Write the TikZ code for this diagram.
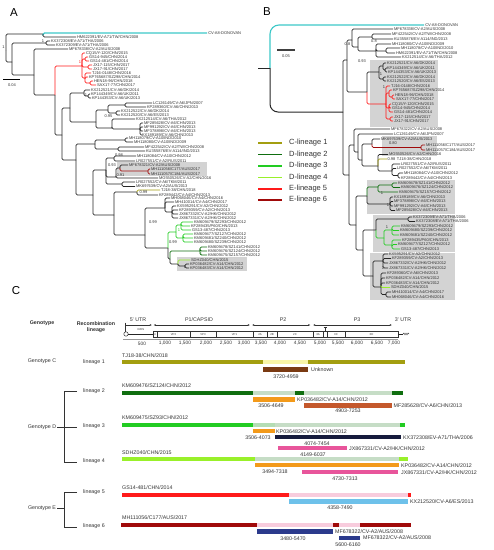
\documentclass[tikz,border=0pt]{standalone}
\usepackage{fontspec}
\setmainfont{Liberation Sans}
\usetikzlibrary{arrows.meta}
\definecolor{txt}{HTML}{333333}
\definecolor{cyanc}{HTML}{3CC8C8}
\definecolor{redc}{HTML}{FF1A1A}
\definecolor{dredc}{HTML}{A00A0A}
\definecolor{olivec}{HTML}{A39E10}
\definecolor{dgreenc}{HTML}{0F6E0F}
\definecolor{greenc}{HTML}{22CC22}
\definecolor{ygreenc}{HTML}{99F02A}
\definecolor{boxgrey}{HTML}{D3D3D3}
\definecolor{lyellow}{HTML}{F8F4A6}
\definecolor{lgreen}{HTML}{C6DDC6}
\definecolor{lgreenb}{HTML}{B4DDB4}
\definecolor{lpink}{HTML}{F8CCDD}
\definecolor{brownc}{HTML}{7A3A12}
\definecolor{orangec}{HTML}{F39A1A}
\definecolor{rustc}{HTML}{C4582C}
\definecolor{navyc}{HTML}{161B3D}
\definecolor{pinkc}{HTML}{E8559B}
\definecolor{lbluec}{HTML}{6EC1EA}
\definecolor{navybc}{HTML}{2B3A8C}
\newcommand\treefont{\fontsize{4}{4.2}\selectfont}
\newcommand\cfont{\fontsize{5.3}{6}\selectfont}
\newcommand\bfontc{\fontsize{5.3}{6.4}\selectfont\bfseries}
\newcommand\legfont{\fontsize{7.5}{8}\selectfont}
\newcommand\mapfont{\fontsize{2.8}{3}\selectfont}
\newcommand\Tbr[5][]{\draw[tb,#1] (#2,#3) |- (#4,#5);}
\newcommand\Tlf[6][]{\draw[tb,#1] (#2,#3) |- (#4,#5) node[lab]{#6};}
\tikzset{
 tb/.style={line width=0.75pt, rounded corners=1.4pt, black!85},
 lab/.style={anchor=west, inner sep=0.7pt, font=\treefont, text=txt},
 bsl/.style={font=\treefont, text=txt, inner sep=0pt},
 gbox/.style={fill=boxgrey, draw=none},
 lgl/.style={line width=1.5pt},
 legt/.style={anchor=west, font=\legfont, text=txt, inner sep=0pt},
 ct/.style={font=\cfont, text=txt, inner sep=0pt},
 cw/.style={font=\cfont, text=txt, inner sep=0pt, anchor=west},
 gl/.style={line width=0.5pt, black!80},
 plab/.style={font=\fontsize{11.5}{12}\selectfont, text=black, inner sep=0pt},
}
\begin{document}
\begin{tikzpicture}[x=1pt,y=-1pt]
\useasboundingbox (0,0) rectangle (494,550);
\fill[white] (0,0) rectangle (494,550);
% ================= PANEL A =================
\node[plab] (pA) at (14,13) {A};
\fill[gbox] (117,162) rectangle (207,176);
\fill[gbox] (177,257) rectangle (247,270.5);
\draw[tb] (6,50) |- (43,34);
\draw[tb,cyanc,line width=1.2pt] (43,34) |- (207,33) node[lab]{CV-A8-DONOVAN};
\Tlf{43}{34}{76}{37}{HM622391/EV-A71/TW/CHN/2008}
\Tbr{6}{50}{12}{62}
\Tbr{12}{62}{46}{43}
\Tlf{46}{43}{50}{41}{KX372308/EV-A71/THA/2006}
\Tlf{46}{43}{55}{45}{KX372309/EV-A71/THA/2006}
\Tbr{12}{62}{34}{75}
\Tlf{34}{75}{68}{49}{MF678338/CV-A2/AUS/2008}
\Tbr{34}{75}{55}{95}
% red clade
\Tbr[redc]{55}{95}{82}{66}
\Tlf[redc]{82}{66}{85}{53}{CQ15/Y-120/CHN/2015}
\Tbr[redc]{82}{66}{85}{59}
\Tlf[redc]{85}{59}{88}{57}{GS14-945/CHN/2014}
\Tlf[redc]{85}{59}{89}{61}{GS14-481/CHN/2014}
\Tbr[redc]{82}{66}{88}{67}
\Tlf[redc]{88}{67}{92}{65}{JX17-115/CHN/2017}
\Tlf[redc]{88}{67}{92}{69}{JX17-91/CHN/2017}
\Tbr[redc]{82}{66}{85}{78}
\Tlf[redc]{85}{78}{91}{73}{TJ16-0148/CHN/2016}
\Tlf[redc]{85}{78}{88}{77}{KP765687/SZ298/CHN/2014}
\Tbr[redc]{85}{78}{90}{83}
\Tlf[redc]{90}{83}{93}{81}{HEN18-96/CHN/2018}
\Tlf[redc]{90}{83}{96}{85}{SAX17-77/CHN/2017}
% rest
\Tbr{55}{95}{62}{135}
\Tbr{62}{135}{70}{108}
\Tbr{70}{108}{84}{93}
\Tlf{84}{93}{90}{90}{KX212521/CV-A6/DK/2014}
\Tbr{84}{93}{88}{96}
\Tlf{88}{96}{90}{94}{KP144349/CV-A6/UK/2011}
\Tlf{88}{96}{91}{98}{KP144353/CV-A6/UK/2013}
\Tbr{70}{108}{96}{122}
\Tbr{96}{122}{108}{110}
\Tbr{108}{110}{125}{105}
\Tlf{125}{105}{152}{103}{LC126149/CV-A6/JPN/2007}
\Tlf{125}{105}{146}{107}{KP289360/CV-A6/CHN/2013}
\Tbr{108}{110}{116}{113}
\Tlf{116}{113}{120}{111}{KX212522/CV-A6/DK/2014}
\Tlf{116}{113}{120}{115}{KX212520/CV-A6/ES/2013}
\Tbr{96}{122}{112}{128}
\Tlf{112}{128}{135}{119}{KX212514/CV-A6/THA/2012}
\Tbr{112}{128}{140}{129}
\Tlf{140}{129}{143}{123}{MF285628/CV-A6/CHN/2013}
\Tlf{140}{129}{143}{127}{MF991292/CV-A6/CHN/2013}
\Tlf{140}{129}{143}{131}{MF378898/CV-A6/CHN/2013}
\Tlf{140}{129}{141}{135}{KX189189/CV-A6/CHN/2013}
\Tbr{62}{135}{76}{160}
\Tbr{76}{160}{95}{144}
\Tbr{95}{144}{125}{140}
\Tlf{125}{140}{128}{138}{MH118079/CV-A10/IND/2010}
\Tlf{125}{140}{133}{142}{MH118080/CV-A10/IND/2009}
\Tbr{95}{144}{118}{149}
\Tlf{118}{149}{144}{147}{MF422542/CV-A2/TW/CHN/2008}
\Tlf{118}{149}{145}{151}{KU355876/EV-A114/IND/2013}
\Tbr{76}{160}{93}{195}
\Tbr{93}{195}{106}{170}
\Tbr{106}{170}{114}{158}
\Tlf{114}{158}{136}{156}{MH118084/CV-A10/CHN/2012}
\Tlf{114}{158}{135}{161}{LR027551/CV-A2/RUS/2011}
\Tbr{106}{170}{116}{177}
\Tbr{116}{177}{120}{168}
\Tlf{120}{168}{128}{165}{MF678321/CV-A2/AUS/2008}
\Tbr[dredc]{120}{168}{148}{171}
\Tlf[dredc]{148}{171}{150}{169}{MH111056/C177/AUS/2017}
\Tlf[dredc]{148}{171}{150}{174}{MH111057/C184/AUS/2017}
\Tlf{116}{177}{158}{178}{MG550526/CV-A2/CHN/2016}
\Tbr{106}{170}{122}{184}
\Tlf{122}{184}{135}{182}{LR027552/CV-A6/TKM/2011}
\Tlf{122}{184}{135}{186.5}{MK697639/CV-A2/AUS/2013}
\Tbr{93}{195}{114}{215}
\Tbr{114}{215}{137}{192}
\Tlf[olivec]{137}{192}{160}{190}{TJ18-38/CHN/2018}
\Tlf{137}{192}{158}{195}{KF289442/CV-A4/CHN/2013}
\Tbr{114}{215}{145}{235}
\Tbr{145}{235}{165}{208}
\Tlf{165}{208}{170}{198}{MH068046/CV-A4/CHN/2016}
\Tlf{165}{208}{174}{202}{MH410014/CV-A4/CHN/2017}
\Tbr{165}{208}{172}{212}
\Tlf{172}{212}{176}{206}{KX595291/CV-A2/CHN/2012}
\Tlf{172}{212}{178}{210}{KF289359/CV-A2/CHN/2013}
\Tlf{172}{212}{178}{214}{JX867332/CV-A2/HK/CHN/2012}
\Tlf{172}{212}{178}{218}{JX867331/CV-A2/HK/CHN/2012}
\Tbr{145}{235}{168}{248}
\Tbr[greenc]{168}{248}{176}{232}
\Tbr[greenc]{176}{232}{181}{225}
\Tlf[greenc]{181}{225}{193}{222}{KM609479/SZ293/CHN/2012}
\Tlf[greenc]{181}{225}{190}{226}{KF289435/P60/CHN/2013}
\Tlf[greenc]{181}{225}{191}{230}{GS13-487/CHN/2013}
\Tbr[greenc]{176}{232}{183}{238}
\Tlf[greenc]{183}{238}{193}{234}{KM609477/SZ127/CHN/2012}
\Tlf[greenc]{183}{238}{193}{238}{KM609481/SZ240/CHN/2012}
\Tlf[greenc]{183}{238}{193}{242}{KM609480/SZ239/CHN/2012}
\Tbr{168}{248}{170}{259}
\Tbr[dgreenc]{170}{259}{200}{251}
\Tlf[dgreenc]{200}{251}{207}{247}{KM609478/SZ141/CHN/2012}
\Tlf[dgreenc]{200}{251}{207}{251}{KM609476/SZ124/CHN/2012}
\Tlf[dgreenc]{200}{251}{207}{255}{KM609475/SZ157/CHN/2012}
\Tbr{170}{259}{178}{264}
\Tlf[ygreenc]{178}{264}{190}{260}{SDHZ040/CHN/2015}
\Tbr{178}{264}{185}{266}
\Tlf{185}{266}{189}{264}{KP036482/CV-A14/CHN/2012}
\Tlf{185}{266}{189}{268}{KP036483/CV-A14/CHN/2012}
% support values A
\node[bsl] at (3.5,47) {1};
\node[bsl] at (43,41) {1};
\node[bsl,text=redc] at (80,62) {1};
\node[bsl] at (86,95) {1};
\node[bsl] at (108.5,116.5) {0.95};
\node[bsl] at (119,155.3) {0.98};
\node[bsl] at (112,165) {0.93};
\node[bsl] at (120.5,175.3) {0.91};
\node[bsl] at (143.5,192.6) {0.99};
\node[bsl] at (153,222) {0.99};
\node[bsl,text=greenc] at (179,230.5) {1};
\node[bsl] at (173,242) {0.99};
\node[bsl,text=dgreenc] at (201,254.5) {1};
\node[bsl] at (185,266.8) {1};
% scale bar A
\draw[line width=0.9pt] (3,79) -- (20,79);
\node[bsl] (sA) at (12,85) {0.04};
% ================= PANEL B =================
\node[plab] (pB) at (267,12) {B};
\fill[gbox] (370,60) rectangle (438,127);
\fill[gbox] (382,136) rectangle (437,155.5);
\fill[gbox] (367,180) rectangle (455,214);
\fill[gbox] (373,214.5) rectangle (455,252);
\fill[gbox] (370,252.5) rectangle (455,300);
\draw[tb,line width=1pt] (258,68) -- (270,68);
\draw[tb,cyanc,line width=1.1pt,rounded corners=9pt] (270,68) |- (424,25) node[lab]{CV-A8-DONOVAN};
\draw[tb,line width=1pt,rounded corners=8pt] (270,68) |- (343,112);
\Tbr{343}{112}{347}{60}
\Tbr{347}{60}{352}{40}
\Tlf{352}{40}{393}{29}{MF678338/CV-A2/AUS/2008}
\Tbr{352}{40}{358}{47}
\Tbr{358}{47}{372}{37}
\Tlf{372}{37}{391}{34}{MF422542/CV-A2/TW/CHN/2008}
\Tlf{372}{37}{393}{39}{KU355876/EV-A114/IND/2013}
\Tbr{358}{47}{376}{51}
\Tlf{376}{51}{391}{44}{MH118080/CV-A10/IND/2009}
\Tbr{376}{51}{386}{51}
\Tlf{386}{51}{400}{48}{MH118078/CV-A10/IND/2010}
\Tlf{386}{51}{395}{53}{HM622391/EV-A71/TW/CHN/2008}
\Tlf{376}{51}{401}{57}{KX212514/CV-A6/THA/2012}
\Tbr{347}{60}{367}{92}
\Tbr{367}{92}{379}{72}
\Tbr{379}{72}{383}{66}
\Tlf{383}{66}{386}{63}{KX212521/CV-A6/DK/2014}
\Tbr{383}{66}{385}{70}
\Tlf{385}{70}{386}{68}{KP144349/CV-A6/UK/2011}
\Tlf{385}{70}{387}{72}{KP144353/CV-A6/UK/2013}
\Tbr{379}{72}{383}{79}
\Tlf{383}{79}{386}{77}{KX212522/CV-A6/DK/2014}
\Tlf{383}{79}{386}{81}{KX212520/CV-A6/ES/2013}
\Tbr[redc]{367}{92}{386}{104}
\Tlf[redc]{386}{104}{390}{86}{TJ16-0148/CHN/2016}
\Tbr[redc]{386}{104}{389}{93}
\Tlf[redc]{389}{93}{392}{90}{KP765687/SZ298/CHN/2014}
\Tbr[redc]{389}{93}{392}{97}
\Tlf[redc]{392}{97}{394}{95}{HEN18-96/CHN/2018}
\Tlf[redc]{392}{97}{395}{99}{SAX17-77/CHN/2017}
\Tbr[redc]{386}{104}{389}{108}
\Tlf[redc]{389}{108}{391}{104}{CQ15/Y-120/CHN/2015}
\Tlf[redc]{389}{108}{391}{108}{GS14-945/CHN/2014}
\Tlf[redc]{389}{108}{393}{112}{GS14-481/CHN/2014}
\Tbr[redc]{386}{104}{390}{119}
\Tlf[redc]{390}{119}{393}{117}{JX17-115/CHN/2017}
\Tlf[redc]{390}{119}{393}{121}{JX17-91/CHN/2017}
% lower B
\Tbr{343}{112}{349}{175}
\Tbr{349}{175}{354}{145}
\Tlf{354}{145}{390}{129}{MF678322/CV-A2/AUS/2008}
\Tbr{354}{145}{358}{152}
\Tlf{358}{152}{393}{134}{LC126149/CV-A6/JPN/2007}
\Tbr{358}{152}{362}{160}
\Tbr{362}{160}{372}{144}
\Tlf{372}{144}{380}{139}{MK697639/CV-A2/AUS/2013}
\Tbr[dredc]{372}{144}{421}{147.5}
\Tlf[dredc]{421}{147.5}{425}{145}{MH111056/C177/AUS/2017}
\Tlf[dredc]{421}{147.5}{425}{150}{MH111057/C184/AUS/2017}
\Tbr{362}{160}{378}{166}
\Tlf{378}{166}{388}{154.5}{MG550526/CV-A2/CHN/2016}
\Tbr[olivec]{378}{166}{387}{159}
\node[lab] at (396,159) {TJ18-38/CHN/2018};
\Tbr{378}{166}{392}{171}
\Tlf{392}{171}{400}{164}{LR027551/CV-A2/RUS/2011}
\Tlf{392}{171}{396}{168.5}{LR027552/CV-A6/TKM/2011}
\Tbr{392}{171}{398}{175.5}
\Tlf{398}{175.5}{403}{173}{MH118084/CV-A10/CHN/2012}
\Tlf{398}{175.5}{400}{178}{KF289442/CV-A4/CHN/2013}
\Tbr{349}{175}{356}{225}
\Tbr{356}{225}{367}{196}
\Tbr[dgreenc]{367}{196}{378}{187}
\Tbr[dgreenc]{378}{187}{392}{185}
\Tlf[dgreenc]{392}{185}{397}{183}{KM609478/SZ141/CHN/2012}
\Tlf[dgreenc]{392}{185}{400}{187.5}{KM609476/SZ124/CHN/2012}
\Tlf[dgreenc]{378}{187}{398}{192}{KM609475/SZ157/CHN/2012}
\Tbr{367}{196}{390}{204}
\Tlf{390}{204}{393}{197}{KX189189/CV-A6/CHN/2013}
\Tlf{390}{204}{393}{201.5}{MF378898/CV-A6/CHN/2013}
\Tlf{390}{204}{393}{206}{MF991292/CV-A6/CHN/2013}
\Tlf{390}{204}{395}{210.5}{MF285628/CV-A6/CHN/2013}
\Tbr{356}{225}{363}{250}
\Tbr{363}{250}{376}{230}
\Tbr{376}{230}{408}{219}
\Tlf{408}{219}{412}{217}{KX372309/EV-A71/THA/2006}
\Tlf{408}{219}{415}{221.5}{KX372308/EV-A71/THA/2006}
\Tbr[greenc]{376}{230}{384}{238}
\Tbr[greenc]{384}{238}{392}{230}
\Tlf[greenc]{392}{230}{400}{226}{KM609479/SZ293/CHN/2012}
\Tlf[greenc]{392}{230}{399}{230.5}{KM609480/SZ239/CHN/2012}
\Tlf[greenc]{392}{230}{399}{235}{KM609481/SZ240/CHN/2012}
\Tbr[greenc]{384}{238}{392}{245}
\Tlf[greenc]{392}{245}{401}{240}{KF289435/P60/CHN/2013}
\Tlf[greenc]{392}{245}{397}{244.5}{KM609477/SZ127/CHN/2012}
\Tlf[greenc]{392}{245}{400}{249}{GS13-487/CHN/2013}
\Tbr{363}{250}{373}{276}
\Tbr{373}{276}{383}{261}
\Tlf{383}{261}{388}{254}{KX595291/CV-A2/CHN/2012}
\Tlf{383}{261}{391}{258.5}{KF289359/CV-A2/CHN/2013}
\Tlf{383}{261}{388}{263}{JX867332/CV-A2/HK/CHN/2012}
\Tlf{383}{261}{388}{268}{JX867331/CV-A2/HK/CHN/2012}
\Tbr{373}{276}{381}{287}
\Tlf{381}{287}{386}{273}{KF289360/CV-A6/CHN/2013}
\Tlf{381}{287}{385}{278}{KP036482/CV-A14/CHN/2012}
\Tlf{381}{287}{385}{283}{KP036483/CV-A14/CHN/2012}
\Tlf[ygreenc]{381}{287}{390}{287.5}{SDHZ040/CHN/2015}
\Tbr{381}{287}{386}{294.5}
\Tlf{386}{294.5}{391}{292}{MH410014/CV-A4/CHN/2017}
\Tlf{386}{294.5}{391}{297}{MH068046/CV-A4/CHN/2016}
% support values B
\node[bsl] at (347.5,44) {0.8};
\node[bsl] at (374,41.5) {0.8};
\node[bsl] at (362,61) {0.93};
\node[bsl] at (381,74.5) {1};
\node[bsl] at (384,87.5) {1};
\node[bsl] at (393,143.3) {0.80};
\node[bsl] at (391.5,159) {0.98};
\node[bsl] at (382,193) {1};
\node[bsl] at (388,205.5) {1};
\node[bsl] at (387,227) {1};
\node[bsl] at (383,268.5) {1};
% scale bar B
\draw[line width=1.1pt,black!75] (277,50) -- (295,50);
\node[bsl] (sB) at (286,56) {0.05};
% legend
\draw[lgl,olivec] (258,143) -- (282,143);   \node[legt] (l1) at (289,143) {C-lineage 1};
\draw[lgl,dgreenc] (258,154.5) -- (282,154.5); \node[legt] (l2) at (289,154.5) {D-lineage 2};
\draw[lgl,greenc] (258,166) -- (282,166);   \node[legt] (l3) at (289,166) {D-lineage 3};
\draw[lgl,ygreenc] (258,177.5) -- (282,177.5); \node[legt] (l4) at (289,177.5) {D-lineage 4};
\draw[lgl,redc] (258,189) -- (282,189);     \node[legt] (l5) at (289,189) {E-lineage 5};
\draw[lgl,dredc] (258,200) -- (282,200);    \node[legt] (l6) at (289,200) {E-lineage 6};
% ================= PANEL C =================
\node[plab] (pC) at (16,291) {C};
\node[font=\bfontc,text=txt,inner sep=0pt] (hg) at (42,323) {Genotype};
\node[font=\bfontc,text=txt,inner sep=0pt,align=center] (hr) at (96,327) {Recombination\\lineage};
% genome map
\node[ct] (u5) at (138,320) {5' UTR};
\node[ct] (p1) at (199,320) {P1/CAPSID};
\node[ct] (p2) at (283,320) {P2};
\node[ct] (p3) at (357,320) {P3};
\node[ct] (u3) at (403,320) {3' UTR};
\draw[gl] (125,322.5) -- (125,331.8);
\draw[gl,-{Latex[length=2.2pt,width=2pt]}] (125,325) -- (152,325);
\draw[gl,{Latex[length=2.2pt,width=2pt]}-{Latex[length=2.2pt,width=2pt]}] (153.5,325) -- (250,325);
\draw[gl,{Latex[length=2.2pt,width=2pt]}-{Latex[length=2.2pt,width=2pt]}] (252,325) -- (310.5,325);
\draw[gl,{Latex[length=2.2pt,width=2pt]}-{Latex[length=2.2pt,width=2pt]}] (313,325) -- (392,325);
\draw[gl] (126,334) circle (2.2);
\draw[line width=0.9pt,black!85] (128.2,334) -- (153,334);
\node[font=\mapfont,text=txt,inner sep=0pt] at (141,330) {IRES};
\draw[gl] (153,331) rectangle (398,337.5);
\foreach \xx in {157,190,216,253,267,277,313,323,327,345} \draw[gl] (\xx,331) -- (\xx,337.5);
\foreach \xx/\tt in {155/4,173.5/VP2,203/VP3,234.5/VP1,260/2A,272/2B,295/2C,318/3A,336/3C,371.5/3D}
  \node[font=\mapfont,text=txt,inner sep=0pt] at (\xx,334.3) {\tt};
\draw[gl] (325,327.5) -- (325,331);
\draw[gl] (323.5,327.5) -- (326.5,327.5);
\draw[line width=0.9pt,black!85] (398,334) -- (403,334);
\draw[line width=0.4pt,black!80] (403,334) -- (404,333) -- (405,335) -- (406,333) -- (407,335) -- (408,333) -- (409,334);
\draw[line width=0.3pt,black!40] (123,339.5) -- (398,339.5);
\foreach \xx/\tt in {142/500,165/{1,000},185/{1,500},206/{2,000},226/{2,500},244/{3,000},261/{3,500},280/{4,000},300/{4,500},320/{5,000},338/{5,500},357/{6,000},377/{6,500},394/{7,000}}
  \node[ct,font=\fontsize{4.8}{5}\selectfont] at (\xx,343.5) {\tt};
% left labels
\node[ct] (gC) at (42,361) {Genotype C};
\node[ct] (ln1) at (94,362) {lineage 1};
\node[ct] (gD) at (42,427) {Genotype D};
\node[ct] (ln2) at (94,391) {lineage 2};
\node[ct] (ln3) at (94,426.5) {lineage 3};
\node[ct] (ln4) at (94,461.5) {lineage 4};
\node[ct] (gE) at (42,508) {Genotype E};
\node[ct] (ln5) at (94,492.5) {lineage 5};
\node[ct] (ln6) at (94,526.5) {lineage 6};
\draw[gl] (57,427) -- (64,427);
\draw[gl] (77,391) -- (64,391) -- (64,462) -- (77,462);
\draw[gl] (64,427) -- (77,427);
\draw[gl] (57,508) -- (64,508);
\draw[gl] (77,492.5) -- (64,492.5) -- (64,527) -- (77,527);
% lineage 1
\node[cw] (s1) at (122,356) {TJ18-38/CHN/2018};
\fill[olivec] (122,359.5) rectangle (262.5,364);
\fill[lyellow] (262.5,359.5) rectangle (308,364);
\fill[olivec] (308,359.5) rectangle (404.5,364);
\fill[brownc] (262.5,367) rectangle (308,371.5);
\node[cw] at (311,369.3) {Unknown};
\node[ct] at (286,376.3) {3720-4959};
% lineage 2
\node[cw] (s2) at (122,386) {KM609476/SZ124/CHN/2012};
\fill[dgreenc] (122,390.5) rectangle (252.5,395);
\fill[lgreen] (252.5,390.5) rectangle (295,395);
\fill[dgreenc] (295,390.5) rectangle (304,395);
\fill[lgreen] (304,390.5) rectangle (392,395);
\fill[dgreenc] (392,390.5) rectangle (403,395);
\fill[orangec] (252.5,397) rectangle (295,401.5);
\node[cw] at (297,399.3) {KP036482/CV-A14/CHN/2012};
\node[ct] at (271,405.5) {3506-4649};
\fill[rustc] (304,403) rectangle (392,407.5);
\node[cw] at (393.5,405.3) {MF285628/CV-A6/CHN/2013};
\node[ct] at (348,410.5) {4903-7253};
% lineage 3
\node[cw] (s3) at (122,418) {KM609475/SZ93/CHN/2012};
\fill[greenc] (122,422.5) rectangle (252.5,427);
\fill[lgreenb] (252.5,422.5) rectangle (274.5,427);
\fill[lgreen] (274.5,422.5) rectangle (400,427);
\fill[greenc] (400,422.5) rectangle (405,427);
\fill[orangec] (252.5,429) rectangle (274.5,433.3);
\node[cw] at (276,431.2) {KP036482/CV-A14/CHN/2012};
\node[ct] at (258,437.8) {3506-4073};
\fill[navyc] (274.5,435) rectangle (401,439.3);
\node[cw] at (403,437.2) {KX372308/EV-A71/THA/2006};
\node[ct] at (317,443.8) {4074-7454};
\fill[pinkc] (277.5,446) rectangle (347,450.3);
\node[cw] at (349,448.2) {JX867331/CV-A2/HK/CHN/2012};
\node[ct] at (313,454.8) {4149-6037};
% lineage 4
\node[cw] (s4) at (122,452.3) {SDHZ040/CHN/2015};
\fill[ygreenc] (122,457) rectangle (255,461.3);
\fill[lgreen] (255,457) rectangle (399,461.3);
\fill[ygreenc] (399,457) rectangle (408,461.3);
\fill[orangec] (255,463) rectangle (399,467.3);
\node[cw] at (401,465.2) {KP036482/CV-A14/CHN/2012};
\node[ct] at (275,471.8) {3494-7318};
\fill[pinkc] (301.5,470) rectangle (398,474.3);
\node[cw] at (401,472.2) {JX867331/CV-A2/HK/CHN/2012};
\node[ct] at (345,478.3) {4730-7313};
% lineage 5
\node[cw] (s5) at (122,488) {GS14-481/CHN/2014};
\fill[redc] (122,492.5) rectangle (289,497);
\fill[lpink] (289,492.5) rectangle (408,497);
\fill[redc] (408,492.5) rectangle (411,497);
\fill[lbluec] (289,499) rectangle (408,503.5);
\node[cw] at (410,501.3) {KX212520/CV-A6/ES/2013};
\node[ct] at (340,507.5) {4358-7490};
% lineage 6
\node[cw] (s6) at (122,518) {MH111056/C177/AUS/2017};
\fill[dredc] (121,522.5) rectangle (256.5,527);
\fill[lpink] (256.5,522.5) rectangle (333,527);
\fill[dredc] (333,522.5) rectangle (339,527);
\fill[lpink] (339,522.5) rectangle (360,527);
\fill[dredc] (360,522.5) rectangle (411,527);
\fill[navybc] (256.5,529) rectangle (332.5,533.5);
\node[cw] at (335,531.3) {MF678322/CV-A2/AUS/2008};
\node[ct] at (293,538.8) {3480-5470};
\fill[navybc] (339,535.5) rectangle (360,540);
\node[cw] at (363,538) {MF678322/CV-A2/AUS/2008};
\node[ct] at (348,545) {5600-6160};
\end{tikzpicture}
\end{document}
